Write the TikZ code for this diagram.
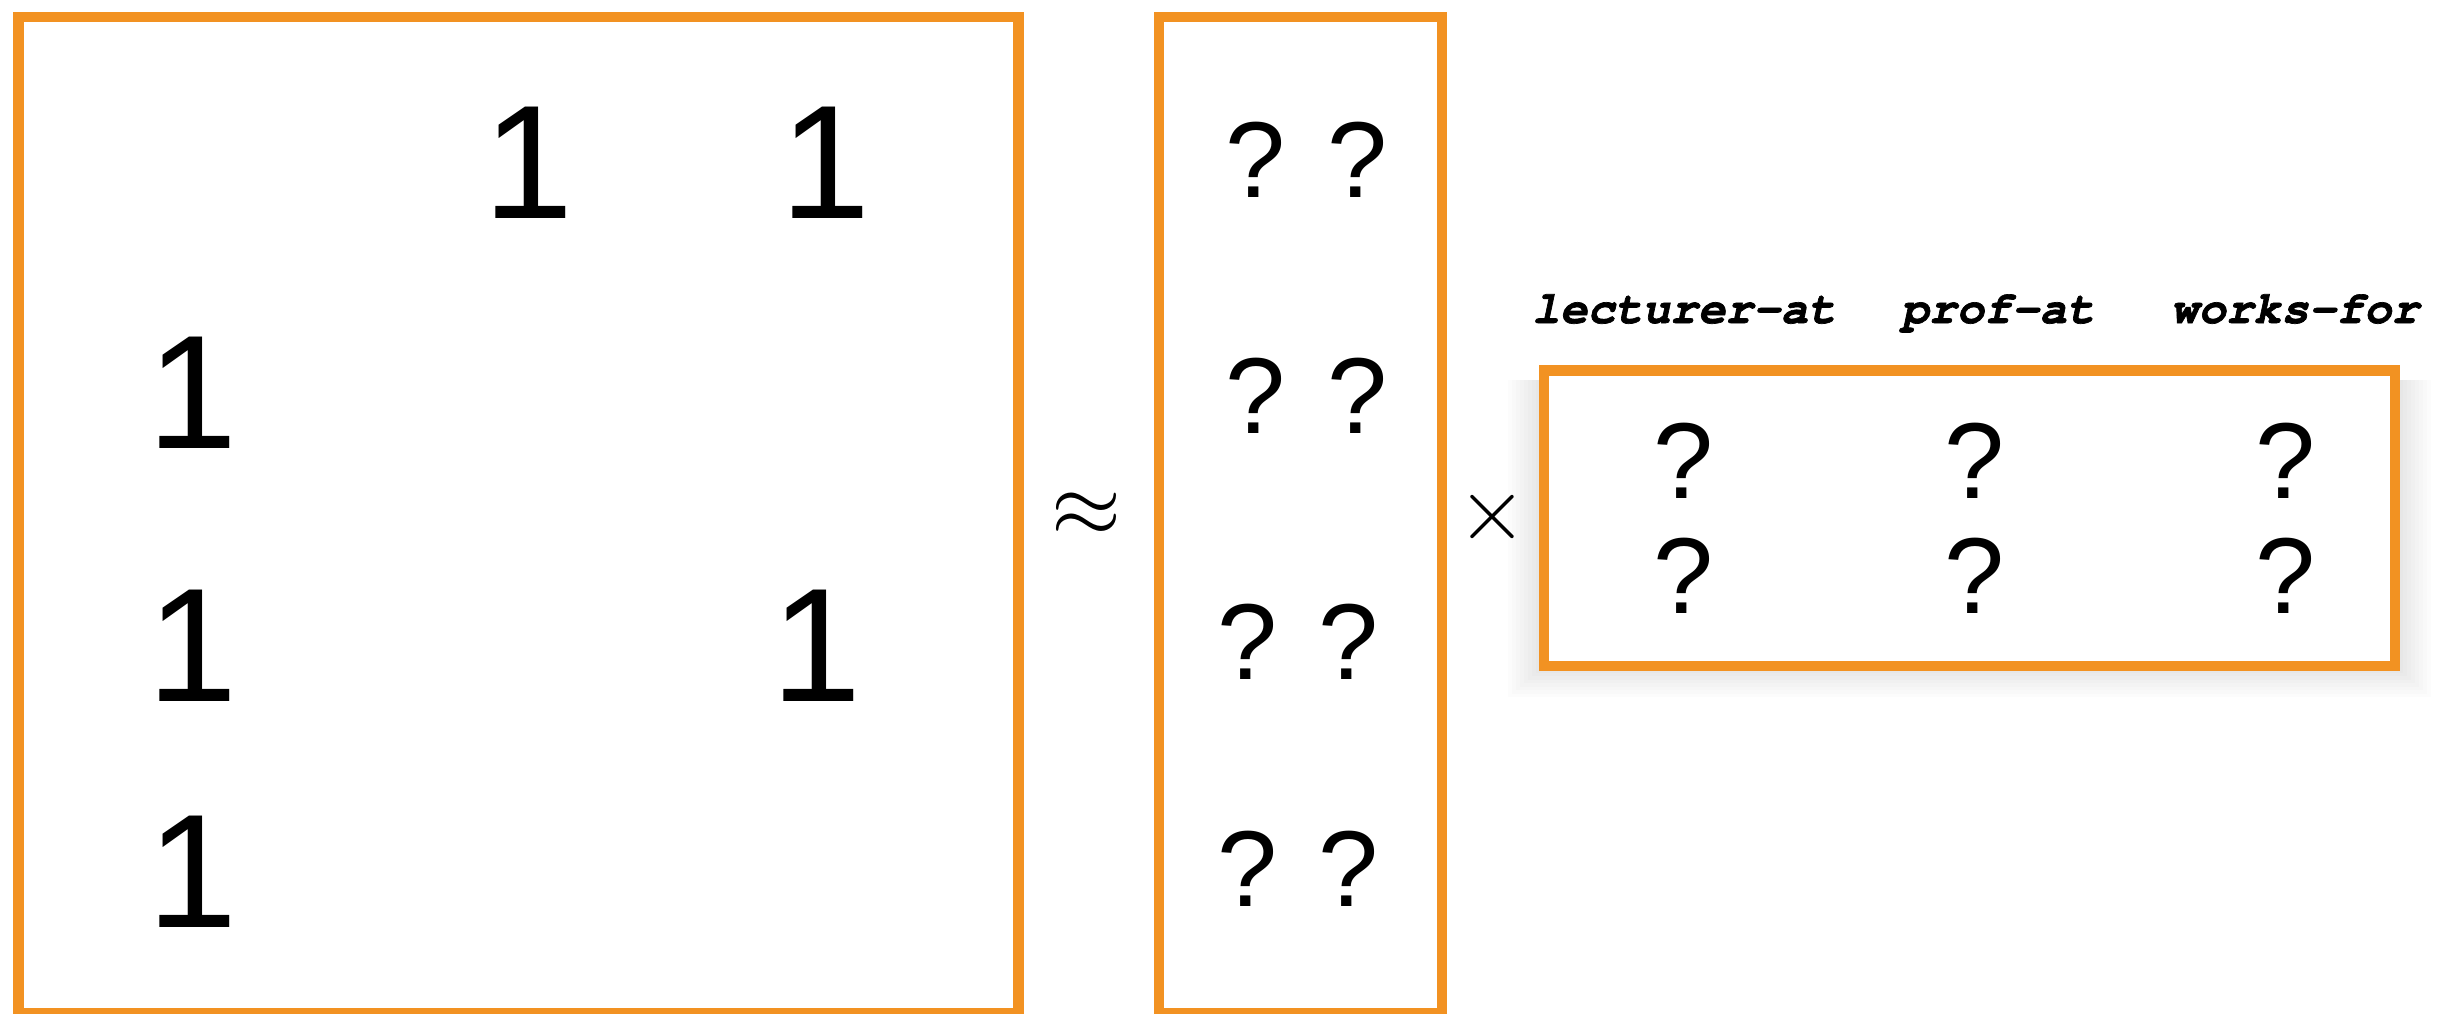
\documentclass[tikz,border=0pt]{standalone}
\usepackage{fontspec}
\setmainfont{Liberation Sans}
\newfontfamily\courbi{texgyrecursor-bolditalic.otf}[FakeBold=1.5]
\definecolor{boxorange}{HTML}{F29222}
\begin{document}
\begin{tikzpicture}[x=0.3pt,y=-0.3pt,
  mbox/.style={draw=boxorange,line width=3.15pt},
  one/.style={anchor=base,inner sep=0pt,font=\fontsize{48.6}{50}\selectfont},
  qm/.style={anchor=base,inner sep=0pt,font=\fontsize{32.4}{34}\selectfont},
  rel/.style={anchor=base,inner sep=0pt,font=\courbi\fontsize{13.8}{15}\selectfont},
  op/.style={inner sep=0pt,scale=2.7}]
\useasboundingbox (0,0) rectangle (2439,1013);
% soft shadow under the right matrix
\foreach \i in {1,...,10}
  \fill[black,opacity=0.011] ({1548-4*\i},380) rectangle ({2391+4*\i},{662+3.5*\i});
% matrices
\draw[mbox] (18.5,17) coordinate (Atl) rectangle (1018.5,1013.5) coordinate (Abr);
\draw[mbox] (1159,17) coordinate (Utl) rectangle (1442,1013.5) coordinate (Ubr);
\draw[mbox,fill=white] (1544,370.5) coordinate (Rtl) rectangle (2395,666) coordinate (Rbr);
% entries of the left matrix
\node[one] (a12) at (528.5,218) {1};
\node[one] (a13) at (825.5,218) {1};
\node[one] (a21) at (193,448) {1};
\node[one] (a31) at (193,701) {1};
\node[one] (a33) at (816.5,701) {1};
\node[one] (a41) at (193,927) {1};
% operators
\node[op] (approx) at (1086,515) {$\approx$};
\node[op] (times) at (1492,517) {$\times$};
% middle matrix
\node[qm] (u11) at (1256,197) {?};
\node[qm] (u12) at (1358,197) {?};
\node[qm] (u21) at (1256,433) {?};
\node[qm] (u22) at (1358,433) {?};
\node[qm] (u31) at (1248,679) {?};
\node[qm] (u32) at (1349,679) {?};
\node[qm] (u41) at (1248,906) {?};
\node[qm] (u42) at (1349,906) {?};
% right matrix
\node[qm] (r11) at (1684,498) {?};
\node[qm] (r12) at (1974,498) {?};
\node[qm] (r13) at (2285,498) {?};
\node[qm] (r21) at (1684,613) {?};
\node[qm] (r22) at (1974,613) {?};
\node[qm] (r23) at (2285,613) {?};
% column labels
\node[rel] (l1) at (1684,323) {lecturer-at};
\node[rel] (l2) at (1998,323) {prof-at};
\node[rel] (l3) at (2295,323) {works-for};
\end{tikzpicture}
\end{document}
